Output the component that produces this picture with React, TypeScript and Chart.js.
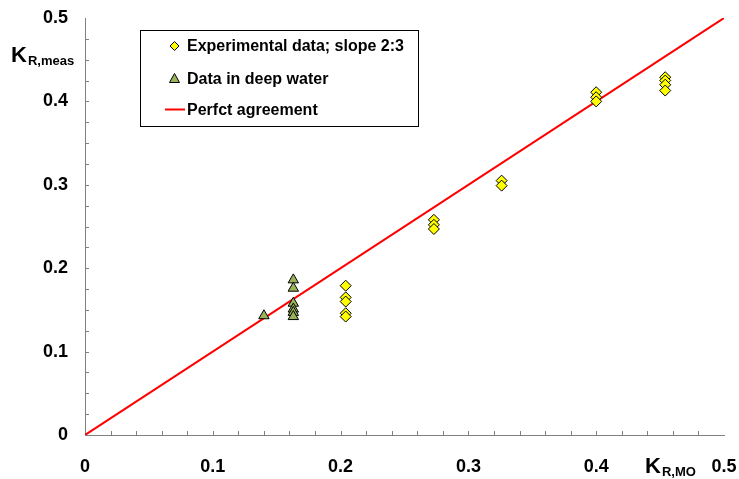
import React, { useEffect, useRef } from "react";
import { Chart, registerables } from "chart.js";

Chart.register(...registerables);

const expX = [0.204, 0.204, 0.204, 0.204, 0.204, 0.273, 0.273, 0.273, 0.326, 0.326, 0.4, 0.4, 0.4, 0.454, 0.454, 0.454, 0.454];
const expY = [0.179, 0.165, 0.16, 0.146, 0.142, 0.258, 0.252, 0.247, 0.305, 0.299, 0.411, 0.405, 0.4, 0.429, 0.425, 0.42, 0.413];
const deepX = [0.14, 0.163, 0.163, 0.163, 0.163, 0.163, 0.163];
const deepY = [0.143, 0.186, 0.176, 0.158, 0.151, 0.147, 0.142];
const lineX = [0, 0.5];
const lineY = [0, 0.5];
const legendLabels = ["Experimental data; slope 2:3", "Data in deep water", "Perfct agreement"];
const xTitle = ["K", "R,MO"];
const yTitle = ["K", "R,meas"];

const FONT = "'Liberation Sans', Arial, sans-serif";
const YELLOW = "#FFFF00";
const OLIVE = "#9AB35A";
const RED = "#FF0000";

function drawTitle(ctx: any, parts: string[], x: number, y: number, subDy: number) {
  ctx.font = `bold 22px ${FONT}`;
  ctx.fillText(parts[0], x, y);
  const w = ctx.measureText(parts[0]).width;
  ctx.font = `bold 13px ${FONT}`;
  ctx.fillText(parts[1], x + w + 1, y + subDy);
}

const overlay = {
  id: "overlay",
  afterDraw(chart: any) {
    const ctx = chart.ctx;
    const xs = chart.scales.x;
    const ys = chart.scales.y;
    ctx.save();
    // minor ticks inside
    ctx.strokeStyle = "#808080";
    ctx.lineWidth = 1;
    for (let v = 0.02; v < 0.5; v += 0.02) {
      const px = Math.round(xs.getPixelForValue(v)) + 0.5;
      ctx.beginPath();
      ctx.moveTo(px, ys.bottom);
      ctx.lineTo(px, ys.bottom - 4);
      ctx.stroke();
    }
    for (let v = 0.025; v < 0.5; v += 0.025) {
      const py = Math.round(ys.getPixelForValue(v)) + 0.5;
      ctx.beginPath();
      ctx.moveTo(xs.left, py);
      ctx.lineTo(xs.left + 4, py);
      ctx.stroke();
    }
    // axis titles
    ctx.fillStyle = "#000";
    ctx.textBaseline = "alphabetic";
    ctx.textAlign = "left";
    drawTitle(ctx, yTitle, 11, 62, 3);
    drawTitle(ctx, xTitle, 645, 473, 3);

    // legend
    const bx = 140.5, by = 30.5, bw = 278, bh = 96;
    ctx.fillStyle = "#fff";
    ctx.fillRect(bx, by, bw, bh);
    ctx.strokeStyle = "#000";
    ctx.lineWidth = 1;
    ctx.strokeRect(bx, by, bw, bh);
    const rows = [46, 78.5, 110];
    const mx = 174.5;
    // diamond
    ctx.beginPath();
    ctx.moveTo(mx, rows[0] - 4.5);
    ctx.lineTo(mx + 4.5, rows[0]);
    ctx.lineTo(mx, rows[0] + 4.5);
    ctx.lineTo(mx - 4.5, rows[0]);
    ctx.closePath();
    ctx.fillStyle = YELLOW;
    ctx.fill();
    ctx.stroke();
    // triangle
    ctx.beginPath();
    ctx.moveTo(mx, rows[1] - 5);
    ctx.lineTo(mx + 5, rows[1] + 4);
    ctx.lineTo(mx - 5, rows[1] + 4);
    ctx.closePath();
    ctx.fillStyle = OLIVE;
    ctx.fill();
    ctx.stroke();
    // line
    ctx.strokeStyle = RED;
    ctx.lineWidth = 2;
    ctx.beginPath();
    ctx.moveTo(165, rows[2] - 0.5);
    ctx.lineTo(185, rows[2] - 0.5);
    ctx.stroke();
    ctx.fillStyle = "#000";
    ctx.font = `bold 16px ${FONT}`;
    ctx.textBaseline = "middle";
    legendLabels.forEach((t, i) => ctx.fillText(t, 187, rows[i] + 1));
    ctx.restore();
  },
};

export default function App() {
  const ref = useRef<HTMLCanvasElement>(null);
  useEffect(() => {
    const expData = expX.map((x, i) => ({ x, y: expY[i] }));
    const deepData = deepX.map((x, i) => ({ x, y: deepY[i] }));
    const lineData = lineX.map((x, i) => ({ x, y: lineY[i] }));
    const chart = new Chart(ref.current!, {
      type: "scatter",
      data: {
        datasets: [
          {
            label: legendLabels[0],
            data: expData,
            pointStyle: "rectRot",
            pointRadius: 5.5,
            backgroundColor: YELLOW,
            borderColor: "#000",
            borderWidth: 1,
            order: 1,
          },
          {
            label: legendLabels[1],
            data: deepData,
            pointStyle: "triangle",
            pointRadius: 6,
            backgroundColor: OLIVE,
            borderColor: "#000",
            borderWidth: 1,
            order: 2,
          },
          {
            type: "line",
            label: legendLabels[2],
            data: lineData,
            borderColor: RED,
            borderWidth: 2,
            pointRadius: 0,
            fill: false,
            order: 3,
          } as any,
        ],
      },
      options: {
        animation: false,
        responsive: false,
        maintainAspectRatio: false,
        layout: { padding: { left: 0, right: 15, top: 18, bottom: 0 } },
        plugins: { legend: { display: false }, tooltip: { enabled: false } },
        scales: {
          x: {
            type: "linear",
            min: 0,
            max: 0.5,
            afterFit: (s: any) => {
              s.height = 44;
              s.paddingLeft = 0;
              s.paddingRight = 0;
            },
            border: { display: true, color: "#808080", width: 1 },
            grid: { display: false, drawTicks: false },
            ticks: {
              stepSize: 0.1,
              padding: 21,
              color: "#000",
              font: { family: FONT, size: 18, weight: "bold" },
              callback: (v: any) => (v === 0 ? "0" : Number(v).toFixed(1)),
            },
          },
          y: {
            type: "linear",
            min: 0,
            max: 0.5,
            afterFit: (s: any) => {
              s.width = 85;
              s.paddingTop = 0;
              s.paddingBottom = 0;
            },
            border: { display: true, color: "#808080", width: 1 },
            grid: { display: false, drawTicks: false },
            ticks: {
              stepSize: 0.1,
              padding: 17,
              color: "#000",
              font: { family: FONT, size: 18, weight: "bold" },
              callback: (v: any) => (v === 0 ? "0" : Number(v).toFixed(1)),
            },
          },
        },
      },
      plugins: [overlay],
    });
    return () => chart.destroy();
  }, []);
  return (
    <div style={{ position: "fixed", left: 0, top: 0, width: 739, height: 479, background: "#fff" }}>
      <canvas ref={ref} width={739} height={479} style={{ width: 739, height: 479 }} />
    </div>
  );
}
